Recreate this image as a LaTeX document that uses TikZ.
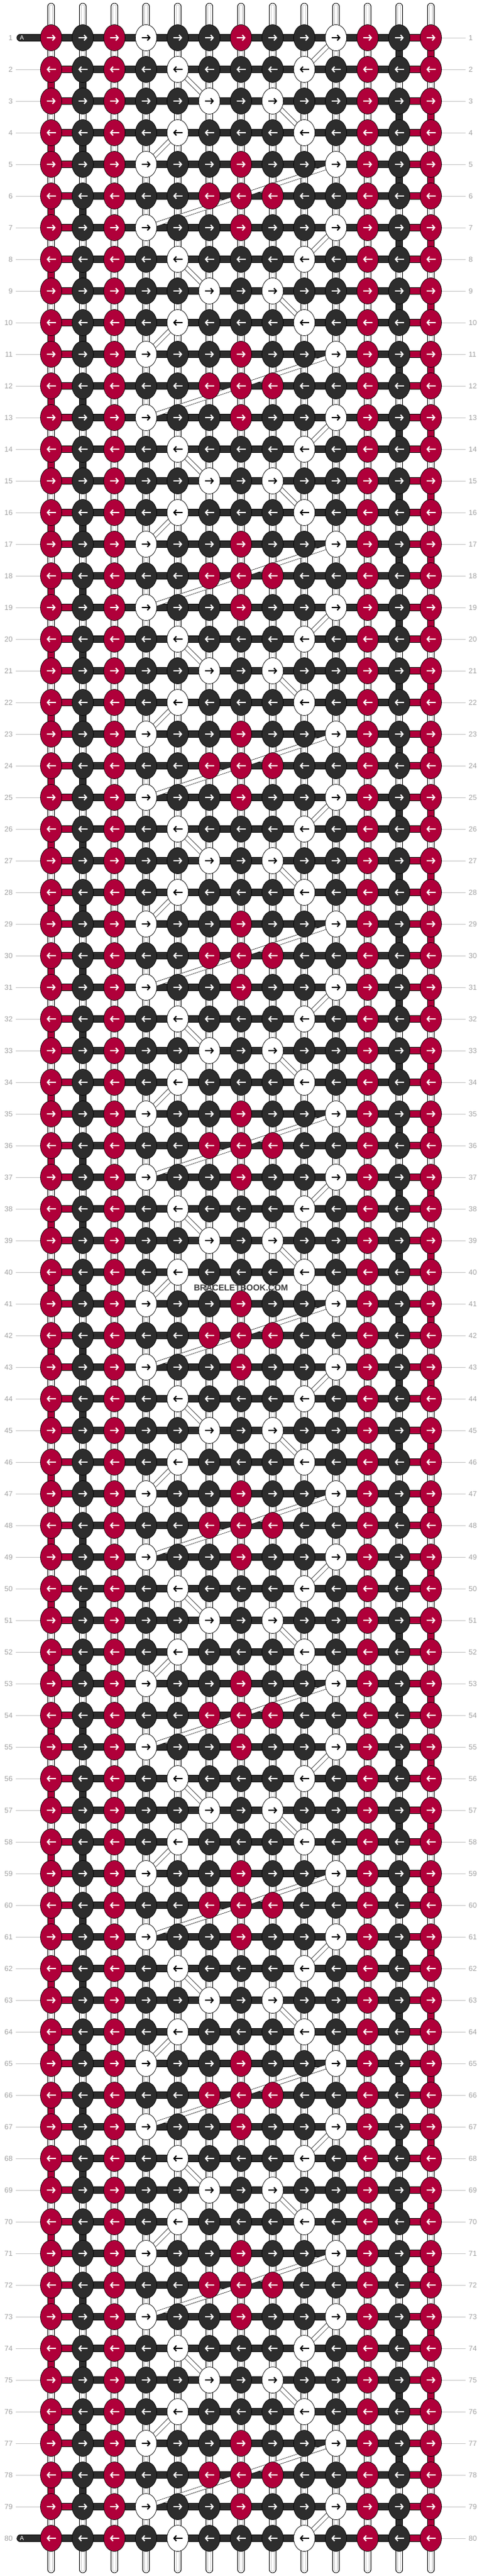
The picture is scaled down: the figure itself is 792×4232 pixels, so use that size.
\documentclass[tikz,border=0pt]{standalone}
\usepackage{fontspec}
\setmainfont{Liberation Sans}
\usetikzlibrary{arrows.meta,shapes.geometric}
\pgfdeclarelayer{bg}
\pgfdeclarelayer{mid}
\pgfsetlayers{bg,mid,main}
\definecolor{knred}{RGB}{176,0,58}
\definecolor{kndark}{RGB}{45,45,45}
\definecolor{labgray}{RGB}{160,160,160}
\definecolor{rulegray}{RGB}{195,195,195}
\definecolor{strgray}{RGB}{200,200,200}
\definecolor{wmgray}{RGB}{60,60,60}
\tikzstyle{knot}=[draw=black, line width=0.7pt, shape=ellipse, minimum width=35pt, minimum height=43pt, inner sep=0pt]
\tikzstyle{knotR}=[knot, fill=knred]
\tikzstyle{knotD}=[knot, fill=kndark]
\tikzstyle{knotW}=[knot, fill=white]
\tikzstyle{arr}=[line width=2pt, -{Straight Barb[length=4pt,width=9pt]}]
\tikzstyle{arrR}=[white]
\tikzstyle{arrD}=[white]
\tikzstyle{arrW}=[black]
\tikzstyle{wire}=[draw=black, line width=0.7pt, double distance=10pt, line cap=round]
\tikzstyle{base}=[draw=black, line width=11.5pt, line cap=round, postaction={draw=white, line width=10pt}, postaction={draw=strgray, line width=6.5pt}, postaction={draw=white, line width=4.5pt}]
\tikzstyle{vR}=[wire, double=knred]
\tikzstyle{vD}=[wire, double=kndark]
\tikzstyle{vW}=[base]
\tikzstyle{slant}=[draw=black, line width=0.6pt, double=white, double distance=6pt]
\tikzstyle{lab}=[text=labgray, font=\fontsize{12}{12}\selectfont, inner sep=0pt]
\tikzstyle{rule}=[draw=rulegray, line width=1pt]
% colours of one row: R red, D dark, W white
\def\rowA{R,D,R,W,D,D,R,D,D,W,R,D,R}
\def\rowB{R,D,R,D,W,D,D,D,W,D,R,D,R}
\def\rowC{R,D,R,D,D,W,D,W,D,D,R,D,R}
\def\rowE{R,D,R,D,D,R,R,R,D,D,R,D,R}

\begin{document}
\begin{tikzpicture}[x=1pt, y=-1pt]
    \useasboundingbox (0,0) rectangle (792,4232);

    % knots
    \foreach \r in {1,...,80} {
        \pgfmathtruncatemacro{\m}{mod(\r,6)}
        \ifcase\m \let\cur\rowE \or \let\cur\rowA \or \let\cur\rowB
            \or \let\cur\rowC \or \let\cur\rowB \or \let\cur\rowA \fi
        \ifodd\r \def\dir{1}\else \def\dir{-1}\fi
        \foreach \k [count=\c from 0] in \cur {
            \node [knot\k] (k-\r-\c) at (84+52*\c, 10+52*\r) {};
            \draw [arr, arr\k] ([xshift=-7.5*\dir]k-\r-\c.center) -- ([xshift=7.5*\dir]k-\r-\c.center);
        }
        \node [lab, anchor=east] (ll-\r) at (21, 10+52*\r) {\r};
        \node [lab, anchor=west] (lr-\r) at (770, 10+52*\r) {\r};
        \draw [rule] (k-\r-12.east) -- ([xshift=-5pt]lr-\r.west);
        \ifnum\r>1 \ifnum\r<80
            \draw [rule] ([xshift=5pt]ll-\r.east) -- (k-\r-0.west);
        \fi\fi
    }

    \foreach \c in {0,...,12} {
        \coordinate (t-\c) at (84+52*\c, 10.5);
        \coordinate (b-\c) at (84+52*\c, 4221.5);
    }
    \coordinate (a-1) at (33, 62);
    \coordinate (a-80) at (33, 4170);
    \node [text=white, font=\fontsize{10}{10}\selectfont] (tag-1) at (36, 62) {A};
    \node [text=white, font=\fontsize{10}{10}\selectfont] (tag-80) at (36, 4170) {A};

    \begin{pgfonlayer}{bg}
        \foreach \c in {0,...,12} {
            \draw [base] (t-\c) -- (k-1-\c.center);
            \draw [base] (k-80-\c.center) -- (b-\c);
        }
        \draw [wire, double=kndark] (a-1) -- (k-1-0.center);
        \draw [wire, double=kndark] (a-80) -- (k-80-0.center);
        % working thread
        \foreach \r in {1,...,80} {
            \foreach \c [evaluate=\c as \cn using int(\c+1)] in {0,...,11} {
                \def\hc{kndark}
                \ifnum\c=11 \def\hc{knred}\fi
                \ifnum\c=0 \ifnum\r>1 \ifnum\r<80 \def\hc{knred}\fi\fi\fi
                \draw [wire, double=\hc] (k-\r-\c.center) -- (k-\r-\cn.center);
            }
        }
        % strings between rows
        \foreach \r [evaluate=\r as \rn using int(\r+1)] in {1,...,79} {
            \foreach \c in {0,...,12} {
                \def\vs{vW}
                \ifodd\r
                    \ifnum\c=11 \def\vs{vD}\fi
                    \ifnum\c=12 \def\vs{vR}\fi
                \else
                    \ifnum\c=0 \def\vs{vR}\fi
                    \ifnum\c=1 \def\vs{vD}\fi
                \fi
                \draw [\vs] (k-\r-\c.center) -- (k-\rn-\c.center);
            }
        }
    \end{pgfonlayer}

    \begin{pgfonlayer}{mid}
        \foreach \p in {0,...,13} {
            \pgfmathtruncatemacro{\ra}{6*\p+1}
            \pgfmathtruncatemacro{\rb}{6*\p+2}
            \pgfmathtruncatemacro{\rc}{6*\p+3}
            \pgfmathtruncatemacro{\rd}{6*\p+4}
            \pgfmathtruncatemacro{\re}{6*\p+5}
            \pgfmathtruncatemacro{\rg}{6*\p+7}
            \draw [slant] (k-\ra-9.center) -- (k-\rb-8.center);
            \ifnum\p<13
                \draw [slant] (k-\rb-4.center) -- (k-\rc-5.center);
                \draw [slant] (k-\rc-7.center) -- (k-\rd-8.center);
                \draw [slant] (k-\rd-4.center) -- (k-\re-3.center);
                \draw [slant] (k-\re-9.center) -- (k-\rg-3.center);
            \fi
        }
    \end{pgfonlayer}

    \node [text=wmgray, font=\fontsize{14}{14}\selectfont\bfseries] (wm) at (396, 2116) {BRACELETBOOK.COM};
\end{tikzpicture}
\end{document}
